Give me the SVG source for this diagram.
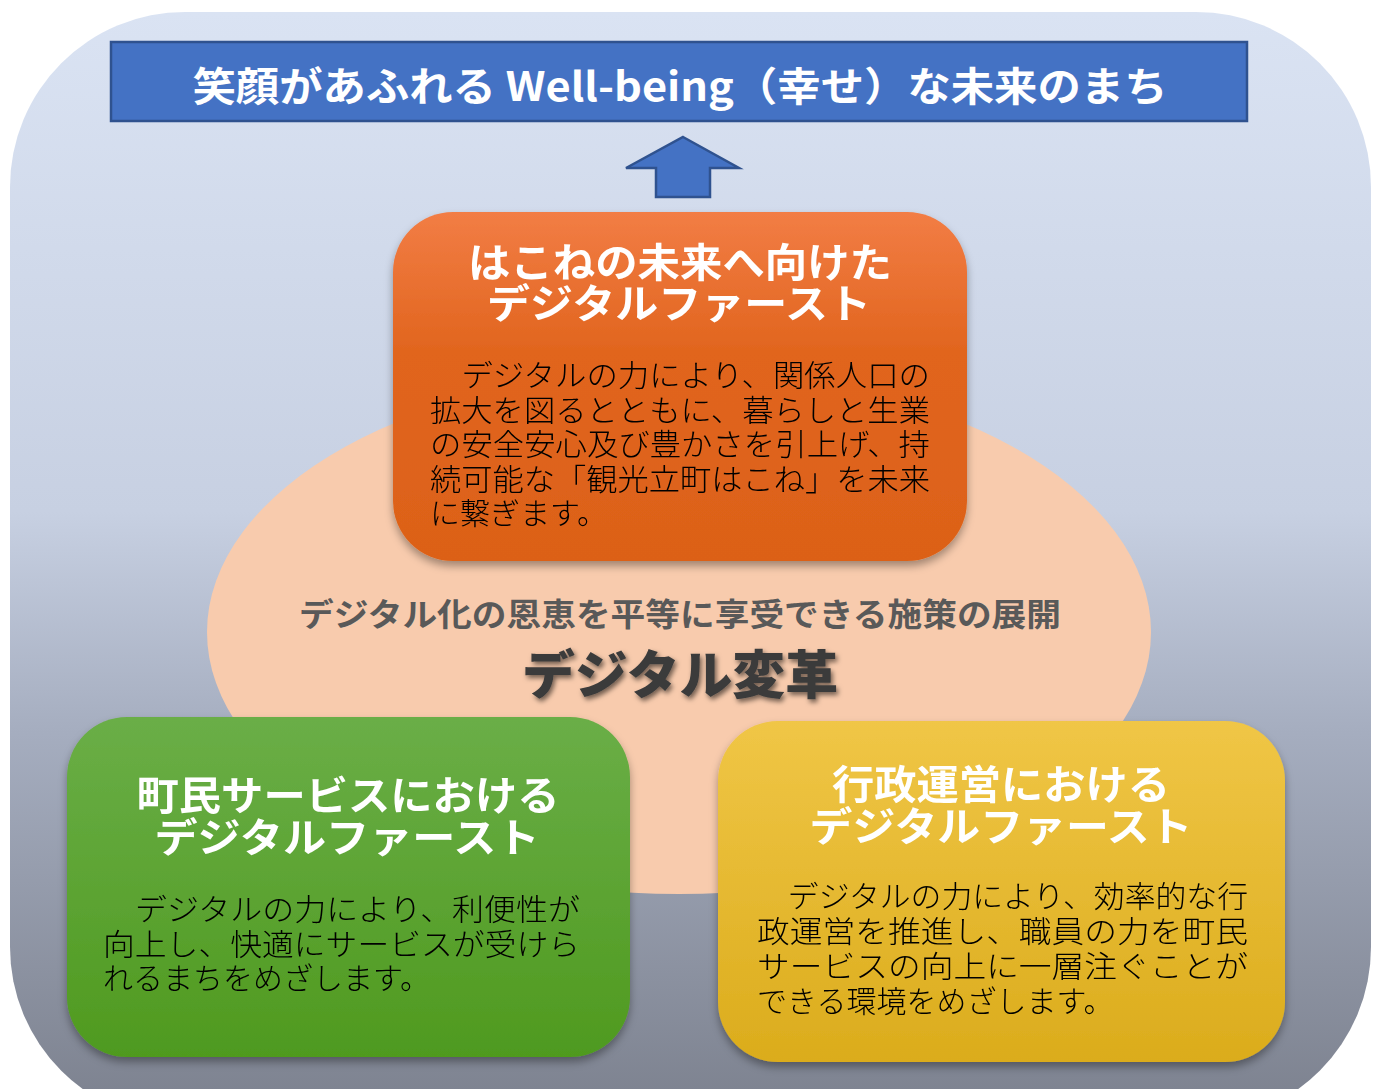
<svg xmlns="http://www.w3.org/2000/svg" width="1378" height="1089" viewBox="0 0 1378 1089">
<defs>
<linearGradient id="bg" x1="0" y1="0" x2="0" y2="1">
<stop offset="0" stop-color="#dae3f3"/>
<stop offset="0.45" stop-color="#c7d0e2"/>
<stop offset="0.65" stop-color="#a5adbf"/>
<stop offset="1" stop-color="#7b808d"/>
</linearGradient>
<linearGradient id="gOr" x1="0" y1="0" x2="0" y2="1">
<stop offset="0" stop-color="#f27d45"/>
<stop offset="0.4" stop-color="#e1651e"/>
<stop offset="1" stop-color="#dc6118"/>
</linearGradient>
<linearGradient id="gGr" x1="0" y1="0" x2="0" y2="1">
<stop offset="0" stop-color="#6aae47"/>
<stop offset="1" stop-color="#4f9a1f"/>
</linearGradient>
<linearGradient id="gYe" x1="0" y1="0" x2="0" y2="1">
<stop offset="0" stop-color="#f0c646"/>
<stop offset="1" stop-color="#dbac1c"/>
</linearGradient>
<filter id="sh" x="-10%" y="-10%" width="120%" height="125%">
<feDropShadow dx="0" dy="5" stdDeviation="4" flood-color="#000" flood-opacity="0.35"/>
</filter>
<filter id="tsh" x="-10%" y="-30%" width="120%" height="160%">
<feGaussianBlur in="SourceAlpha" stdDeviation="2.5"/>
<feOffset dx="2" dy="3" result="b"/>
<feFlood flood-color="#000" flood-opacity="0.55"/>
<feComposite in2="b" operator="in"/>
<feMerge><feMergeNode/><feMergeNode in="SourceGraphic"/></feMerge>
</filter>
</defs>
<style>
.jp{font-family:"Noto Sans CJK JP","Noto Sans",sans-serif;}
.ttl{font-size:40px;font-weight:700;fill:#fff;text-anchor:middle;}
.body{font-size:30px;font-weight:300;fill:#000;}
</style>
<rect x="10" y="12" width="1361" height="1110" rx="175" ry="175" fill="url(#bg)"/>
<g id="ellipse">
<ellipse cx="679" cy="632" rx="472" ry="262" fill="#f8cbad"/>
<text class="jp" x="680" y="626" font-size="32" font-weight="700" fill="#595959" text-anchor="middle" textLength="762" lengthAdjust="spacingAndGlyphs">デジタル化の恩恵を平等に享受できる施策の展開</text>
<text class="jp" x="680" y="694" font-size="52" font-weight="900" fill="#3b3b3b" text-anchor="middle" textLength="316" lengthAdjust="spacingAndGlyphs" filter="url(#tsh)">デジタル変革</text>
</g>
<g id="goal">
<rect x="111" y="42" width="1136" height="79" fill="#4472c4" stroke="#2f528f" stroke-width="2.5"/>
<text class="jp" x="680" y="101" font-size="40" font-weight="700" fill="#fff" text-anchor="middle" textLength="975" lengthAdjust="spacingAndGlyphs">笑顔があふれる Well-being（幸せ）な未来のまち</text>
</g>
<g id="connectors">
<polygon points="683,137 739,168 710,168 710,197 656,197 656,168 626,168" fill="#4472c4" stroke="#2f528f" stroke-width="2.5" stroke-linejoin="miter"/>
</g>
<g id="node-hakone" filter="url(#sh)">
<rect x="393" y="212" width="574" height="349" rx="60" ry="60" fill="url(#gOr)"/>
<text class="jp ttl" x="680" y="277" textLength="424" lengthAdjust="spacingAndGlyphs">はこねの未来へ向けた</text>
<text class="jp ttl" x="679" y="318" textLength="384" lengthAdjust="spacingAndGlyphs">デジタルファースト</text>
<text class="jp body" x="430" y="386" textLength="500" lengthAdjust="spacingAndGlyphs">　デジタルの力により、関係人口の</text>
<text class="jp body" x="430" y="421" textLength="500" lengthAdjust="spacingAndGlyphs">拡大を図るとともに、暮らしと生業</text>
<text class="jp body" x="430" y="455" textLength="500" lengthAdjust="spacingAndGlyphs">の安全安心及び豊かさを引上げ、持</text>
<text class="jp body" x="430" y="490" textLength="500" lengthAdjust="spacingAndGlyphs">続可能な「観光立町はこね」を未来</text>
<text class="jp body" x="430" y="524">に繋ぎます。</text>
</g>
<g id="node-citizen" filter="url(#sh)">
<rect x="67" y="717" width="563" height="340" rx="60" ry="60" fill="url(#gGr)"/>
<text class="jp ttl" x="348" y="810" textLength="423" lengthAdjust="spacingAndGlyphs">町民サービスにおける</text>
<text class="jp ttl" x="347" y="852" textLength="385" lengthAdjust="spacingAndGlyphs">デジタルファースト</text>
<text class="jp body" x="103" y="920" textLength="477" lengthAdjust="spacingAndGlyphs">　デジタルの力により、利便性が</text>
<text class="jp body" x="103" y="955" textLength="477" lengthAdjust="spacingAndGlyphs">向上し、快適にサービスが受けら</text>
<text class="jp body" x="103" y="989">れるまちをめざします。</text>
</g>
<g id="node-admin" filter="url(#sh)">
<rect x="718" y="721" width="567" height="341" rx="60" ry="60" fill="url(#gYe)"/>
<text class="jp ttl" x="1001" y="799" textLength="338" lengthAdjust="spacingAndGlyphs">行政運営における</text>
<text class="jp ttl" x="1001" y="841" textLength="383" lengthAdjust="spacingAndGlyphs">デジタルファースト</text>
<text class="jp body" x="757" y="907" textLength="491" lengthAdjust="spacingAndGlyphs">　デジタルの力により、効率的な行</text>
<text class="jp body" x="757" y="942" textLength="491" lengthAdjust="spacingAndGlyphs">政運営を推進し、職員の力を町民</text>
<text class="jp body" x="757" y="977" textLength="491" lengthAdjust="spacingAndGlyphs">サービスの向上に一層注ぐことが</text>
<text class="jp body" x="757" y="1012">できる環境をめざします。</text>
</g>
</svg>
